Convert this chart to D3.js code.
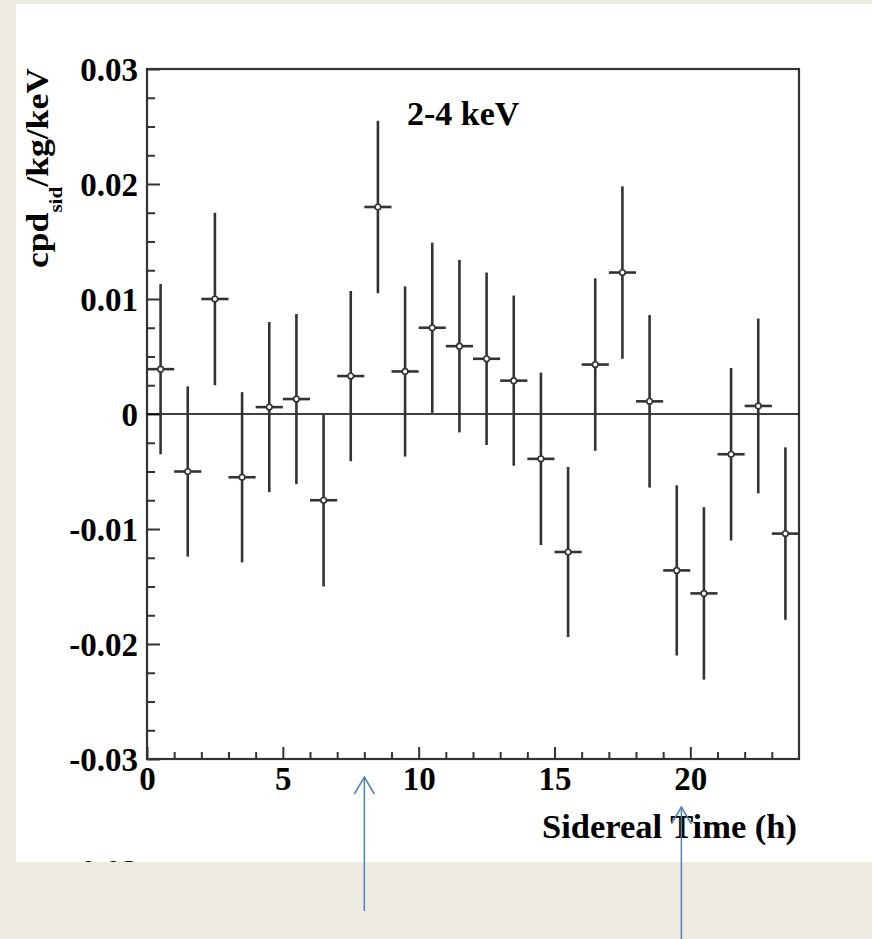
<!DOCTYPE html>
<html>
<head>
<meta charset="utf-8">
<script src="https://cdn.jsdelivr.net/npm/d3@7/dist/d3.min.js"></script>
<style>
  html, body { margin: 0; padding: 0; background: #eeece1; }
  svg { display: block; }
  text { font-family: "Liberation Serif", "Times New Roman", serif; font-weight: bold; fill: #000; }
</style>
</head>
<body>
<svg id="chart" width="872" height="939"></svg>
<script>
// ---- data ----
const hours = [0.5, 1.5, 2.5, 3.5, 4.5, 5.5, 6.5, 7.5, 8.5, 9.5, 10.5, 11.5,
               12.5, 13.5, 14.5, 15.5, 16.5, 17.5, 18.5, 19.5, 20.5, 21.5, 22.5, 23.5];
const rates = [0.0039, -0.0050, 0.0100, -0.0055, 0.0006, 0.0013, -0.0075, 0.0033,
               0.0180, 0.0037, 0.0075, 0.0059, 0.0048, 0.0029, -0.0039, -0.0120,
               0.0043, 0.0123, 0.0011, -0.0136, -0.0156, -0.0035, 0.0007, -0.0104];
const errors = [0.0074, 0.0074, 0.0075, 0.0074, 0.0074, 0.0074, 0.0075, 0.0074,
                0.0075, 0.0074, 0.0074, 0.0075, 0.0075, 0.0074, 0.0075, 0.0074,
                0.0075, 0.0075, 0.0075, 0.0074, 0.0075, 0.0075, 0.0076, 0.0075];
const binHalf = 0.5;
const xMajorTicks = [0, 5, 10, 15, 20];
const xMinorTicks = [1, 2, 3, 4, 6, 7, 8, 9, 11, 12, 13, 14, 16, 17, 18, 19, 21, 22, 23];
const yMajorTicks = [-0.03, -0.02, -0.01, 0, 0.01, 0.02, 0.03];
const yTickLabels = ["-0.03", "-0.02", "-0.01", "0", "0.01", "0.02", "0.03"];
const yMinorTicks = [-0.0275, -0.025, -0.0225, -0.0175, -0.015, -0.0125, -0.0075, -0.005, -0.0025,
                     0.0025, 0.005, 0.0075, 0.0125, 0.015, 0.0175, 0.0225, 0.025, 0.0275];
const arrowHours = [8.0, 19.67];
const energyLabel = "2-4 keV";
const xTitle = "Sidereal Time (h)";

// ---- layout ----
const svg = d3.select("#chart");
const L = 147, R = 799, T = 69, B = 759;
const x = d3.scaleLinear().domain([0, 24]).range([L, R]);
const y = d3.scaleLinear().domain([-0.03, 0.03]).range([B, T]);
const ink = "#333";

// white panel
svg.append("rect").attr("x", 16).attr("y", 4).attr("width", 856).attr("height", 858).attr("fill", "#fff");
svg.append("clipPath").attr("id", "panelClip")
  .append("rect").attr("x", 16).attr("y", 4).attr("width", 856).attr("height", 858);

// axes
const gx = svg.append("g").attr("transform", `translate(0,${B})`)
  .call(d3.axisBottom(x).tickValues(xMajorTicks).tickSizeInner(-12).tickSizeOuter(0).tickPadding(0).tickFormat(d3.format("d")));
gx.select(".domain").remove();
gx.selectAll(".tick line").attr("stroke", ink).attr("stroke-width", 2);
gx.selectAll(".tick text").attr("y", 31).attr("dy", null).style("font-size", "33px")
  .style("font-family", "'Liberation Serif', serif").style("font-weight", "bold").attr("fill", "#000");

const gxm = svg.append("g").attr("transform", `translate(0,${B})`)
  .call(d3.axisBottom(x).tickValues(xMinorTicks).tickSizeInner(-7).tickSizeOuter(0).tickFormat(""));
gxm.select(".domain").remove();
gxm.selectAll(".tick line").attr("stroke", ink).attr("stroke-width", 2);

const gy = svg.append("g").attr("transform", `translate(${L},0)`)
  .call(d3.axisLeft(y).tickValues(yMajorTicks).tickSizeInner(-13).tickSizeOuter(0).tickPadding(9)
    .tickFormat((d, i) => yTickLabels[i]));
gy.select(".domain").remove();
gy.selectAll(".tick line").attr("stroke", ink).attr("stroke-width", 2);
gy.selectAll(".tick text").attr("dy", "0.34em").style("font-size", "33px")
  .style("font-family", "'Liberation Serif', serif").style("font-weight", "bold").attr("fill", "#000");

const gym = svg.append("g").attr("transform", `translate(${L},0)`)
  .call(d3.axisLeft(y).tickValues(yMinorTicks).tickSizeInner(-8).tickSizeOuter(0).tickFormat(""));
gym.select(".domain").remove();
gym.selectAll(".tick line").attr("stroke", ink).attr("stroke-width", 2);

// frame
svg.append("rect").attr("x", L).attr("y", T).attr("width", R - L).attr("height", B - T)
  .attr("fill", "none").attr("stroke", ink).attr("stroke-width", 2.2);

// zero line
svg.append("line").attr("x1", x(0)).attr("x2", x(24)).attr("y1", y(0)).attr("y2", y(0))
  .attr("stroke", "#000").attr("stroke-width", 1.6);

// data points
const pts = hours.map((h, i) => ({ h, v: rates[i], e: errors[i] }));
const g = svg.append("g");
g.selectAll("line.v").data(pts).join("line").attr("class", "v")
  .attr("x1", d => x(d.h)).attr("x2", d => x(d.h))
  .attr("y1", d => y(d.v + d.e)).attr("y2", d => y(d.v - d.e))
  .attr("stroke", ink).attr("stroke-width", 2.6);
g.selectAll("line.h").data(pts).join("line").attr("class", "h")
  .attr("x1", d => x(d.h - binHalf)).attr("x2", d => x(d.h + binHalf))
  .attr("y1", d => y(d.v)).attr("y2", d => y(d.v))
  .attr("stroke", ink).attr("stroke-width", 2.6);
g.selectAll("circle").data(pts).join("circle")
  .attr("cx", d => x(d.h)).attr("cy", d => y(d.v)).attr("r", 2.8)
  .attr("fill", "#fff").attr("stroke", ink).attr("stroke-width", 1.6);

// labels
svg.append("text").attr("x", 407).attr("y", 125).style("font-size", "34px").text(energyLabel);
svg.append("text").attr("x", 797).attr("y", 838).attr("text-anchor", "end").style("font-size", "34.5px").text(xTitle);

// y title with subscript
const yt = svg.append("text").style("font-size", "32px");
yt.append("tspan").text("cpd");
yt.append("tspan").attr("dy", 14).style("font-size", "19px").text("sid");
yt.append("tspan").attr("dy", -14).text("/kg/keV");
const w = yt.node().getComputedTextLength();
yt.attr("transform", `translate(48,268) rotate(-90) scale(${200 / w},1)`);

// partially clipped label at the panel's bottom edge
svg.append("text").attr("clip-path", "url(#panelClip)")
  .attr("x", 138).attr("y", 883).attr("text-anchor", "end").style("font-size", "33px").text("-0.03");

// blue arrows
const arrowColor = "#4f81bd";
const arrowTips = [777, 807];
const arrowEnds = [911, 945];
arrowHours.forEach((h, i) => {
  const ax = x(h);
  const a = svg.append("g").attr("stroke", arrowColor).attr("stroke-width", 1.5).attr("fill", "none");
  a.append("line").attr("x1", ax).attr("x2", ax).attr("y1", arrowTips[i]).attr("y2", arrowEnds[i]);
  a.append("polyline").attr("points", `${ax - 10},${arrowTips[i] + 17} ${ax},${arrowTips[i]} ${ax + 10},${arrowTips[i] + 17}`);
});
</script>
</body>
</html>
